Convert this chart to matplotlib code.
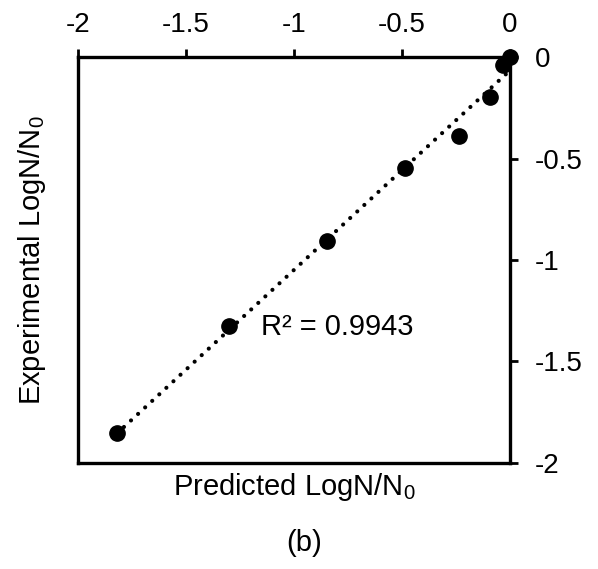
import numpy as np
import matplotlib
matplotlib.use('Agg')
import matplotlib.pyplot as plt

plt.rcParams['font.family'] = ['Liberation Sans', 'DejaVu Sans']
plt.rcParams['mathtext.fontset'] = 'custom'
plt.rcParams['mathtext.rm'] = 'Liberation Sans'

predicted = [-1.82, -1.30, -0.845, -0.485, -0.235, -0.093, -0.03, 0.0]
experimental = [-1.85, -1.325, -0.905, -0.547, -0.39, -0.197, -0.04, 0.0]
ticks = [-2, -1.5, -1, -0.5, 0]
tick_labels = ['-2', '-1.5', '-1', '-0.5', '0']
r2_text = 'R² = 0.9943'

fig = plt.figure(figsize=(5.98, 5.69), dpi=100)
ax = fig.add_axes([0.1304, 0.1863, 0.7224, 0.7135])

# linear trend line (round dots)
k, b = np.polyfit(predicted, experimental, 1)
xl = np.array([min(predicted), max(predicted)])
ax.plot(xl, k * xl + b, color='black', lw=3.0, dashes=(0.01, 2.3),
        dash_capstyle='round', clip_on=False, zorder=2)
ax.plot(predicted, experimental, 'o', color='black', ms=11, clip_on=False, zorder=3)

ax.set_xlim(-2, 0)
ax.set_ylim(-2, 0)
ax.set_xticks(ticks)
ax.set_xticklabels(tick_labels)
ax.set_yticks(ticks)
ax.set_yticklabels(tick_labels)
ax.xaxis.tick_top()
ax.yaxis.tick_right()
ax.tick_params(axis='both', direction='out', length=6, width=2, labelsize=20)
ax.tick_params(axis='x', pad=8)
ax.tick_params(axis='y', pad=12)

for s in ax.spines.values():
    s.set_linewidth(2.4)

ax.text(-0.80, -1.33, r2_text, fontsize=21, ha='center', va='center')

fig.text(0.493, 1 - 487 / 569, r'Predicted LogN/N$_\mathregular{0}$', fontsize=21, ha='center', va='center')
fig.text(0.054, 1 - 260 / 569, r'Experimental LogN/N$_\mathregular{0}$', fontsize=21, ha='center', va='center', rotation=90)
fig.text(0.508, 1 - 543 / 569, '(b)', fontsize=21, ha='center', va='center')

fig.savefig('out.png', dpi=100)
